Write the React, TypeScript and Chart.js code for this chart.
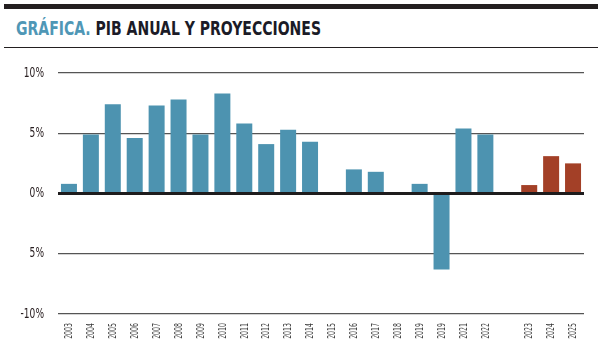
import React, { useEffect, useRef } from "react";
import { Chart, registerables } from "chart.js";

Chart.register(...registerables);

const years: string[] = [
  "2003", "2004", "2005", "2006", "2007", "2008", "2009", "2010", "2011", "2012",
  "2013", "2014", "2015", "2016", "2017", "2018", "2019", "2019", "2021", "2022",
  "", "2023", "2024", "2025",
];
const gdpHistory: (number | null)[] = [
  0.8, 4.9, 7.4, 4.6, 7.3, 7.8, 4.9, 8.3, 5.8, 4.1,
  5.3, 4.3, null, 2.0, 1.8, null, 0.8, -6.3, 5.4, 4.9,
  null, null, null, null,
];
const gdpProjection: (number | null)[] = [
  null, null, null, null, null, null, null, null, null, null,
  null, null, null, null, null, null, null, null, null, null,
  null, 0.7, 3.1, 2.5,
];
const yTickValues: number[] = [-10, -5, 0, 5, 10];
const yTickLabels: string[] = ["-10%", "5%", "0%", "5%", "10%"];

const TITLE_BLUE = "#4f97b6";
const BAR_BLUE = "#4d93b0";
const BAR_RED = "#a34027";
const NARROW = "'Liberation Sans Narrow', 'DejaVu Sans Condensed', 'Arial Narrow', sans-serif";

const zeroLinePlugin = {
  id: "zeroLine",
  afterDatasetsDraw(chart: any) {
    const { ctx, chartArea, scales } = chart;
    const y = scales.y.getPixelForValue(0);
    ctx.save();
    ctx.fillStyle = "#1e1c1d";
    ctx.fillRect(chartArea.left, y - 1.5, chartArea.right - chartArea.left, 3);
    ctx.restore();
  },
};

// Condensed tick labels, positioned from the chart's own scales.
const condensedLabelsPlugin = {
  id: "condensedLabels",
  afterDraw(chart: any) {
    const { ctx, scales, chartArea } = chart;
    const xs = scales.x;
    const ys = scales.y;
    ctx.save();
    ctx.fillStyle = "#3d3d3d";
    ctx.font = `10.5px ${NARROW}`;
    ctx.textAlign = "right";
    ctx.textBaseline = "middle";
    years.forEach((label, i) => {
      if (!label) return;
      const x = xs.getPixelForValue(i);
      ctx.save();
      ctx.translate(x + 0.5, chartArea.bottom + 9);
      ctx.rotate(-Math.PI / 2);
      ctx.scale(0.66, 1);
      ctx.fillText(label, 0, 0);
      ctx.restore();
    });
    ctx.fillStyle = "#2a2022";
    ctx.font = `14px ${NARROW}`;
    yTickValues.forEach((v, i) => {
      const y = ys.getPixelForValue(v);
      ctx.save();
      ctx.translate(chartArea.left - 14, y);
      ctx.scale(0.72, 1);
      ctx.fillText(yTickLabels[i], 0, 0);
      ctx.restore();
    });
    ctx.restore();
  },
};

export default function App() {
  const canvasRef = useRef<HTMLCanvasElement | null>(null);

  useEffect(() => {
    const canvas = canvasRef.current;
    if (!canvas) return;
    const chart = new Chart(canvas, {
      type: "bar",
      data: {
        labels: years,
        datasets: [
          {
            label: "PIB",
            data: gdpHistory,
            backgroundColor: BAR_BLUE,
            barPercentage: 0.73,
            categoryPercentage: 1,
            grouped: false,
          },
          {
            label: "Proyección",
            data: gdpProjection,
            backgroundColor: BAR_RED,
            barPercentage: 0.73,
            categoryPercentage: 1,
            grouped: false,
          },
        ],
      },
      options: {
        responsive: false,
        animation: false,
        devicePixelRatio: 1,
        layout: { padding: { top: 73, right: 18, left: 0, bottom: 0 } },
        plugins: {
          legend: { display: false },
          title: { display: false },
          tooltip: { enabled: false },
        },
        scales: {
          x: {
            grid: { display: false },
            border: { display: false },
            ticks: { display: false, autoSkip: false },
            afterFit(scale: any) {
              scale.height = 48;
            },
          },
          y: {
            min: -10,
            max: 10,
            border: { display: false },
            grid: {
              color: "#555555",
              lineWidth: 1.2,
              drawTicks: false,
            },
            afterBuildTicks(scale: any) {
              scale.ticks = yTickValues.map((v) => ({ value: v }));
            },
            ticks: { display: false },
            afterFit(scale: any) {
              scale.width = 58;
            },
          },
        },
      },
      plugins: [zeroLinePlugin, condensedLabelsPlugin],
    });
    return () => chart.destroy();
  }, []);

  return (
    <div
      style={{
        position: "fixed",
        left: 0,
        top: 0,
        width: 602,
        height: 362,
        background: "#ffffff",
        overflow: "hidden",
      }}
    >
      <div style={{ position: "absolute", left: 4, top: 4, width: 594, height: 5, background: "#231f20" }} />
      <div
        style={{
          position: "absolute",
          left: 16,
          top: 16,
          fontFamily: NARROW,
          fontWeight: 700,
          fontSize: 19,
          lineHeight: "24px",
          whiteSpace: "nowrap",
          color: "#1b1b27",
          transform: "scaleX(0.82)",
          transformOrigin: "0 0",
        }}
      >
        <span style={{ color: TITLE_BLUE }}>GRÁFICA.</span> PIB ANUAL Y PROYECCIONES
      </div>
      <div style={{ position: "absolute", left: 4, top: 47, width: 594, height: 1, background: "#231f20" }} />
      <canvas
        ref={canvasRef}
        width={602}
        height={362}
        style={{ position: "absolute", left: 0, top: 0, width: 602, height: 362 }}
      />
    </div>
  );
}
